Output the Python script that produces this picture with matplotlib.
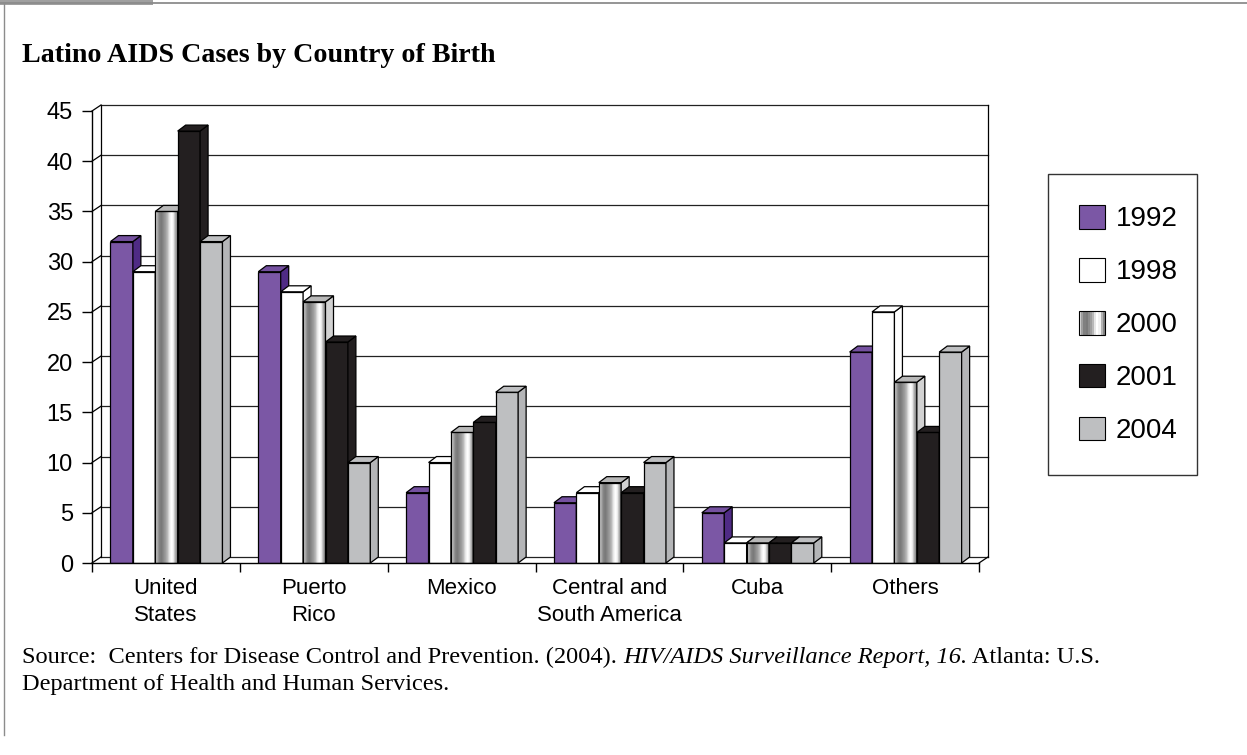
import matplotlib
matplotlib.use("Agg")
import matplotlib.pyplot as plt
import numpy as np
from matplotlib.patches import Polygon, Rectangle
from matplotlib.legend_handler import HandlerBase
from matplotlib.lines import Line2D

plt.rcParams['font.family'] = ['Liberation Sans', 'DejaVu Sans']

# ---------------- data ----------------
categories = ["United\nStates", "Puerto\nRico", "Mexico",
              "Central and\nSouth America", "Cuba", "Others"]
years = ["1992", "1998", "2000", "2001", "2004"]
v1992 = [32, 29, 7, 6, 5, 21]
v1998 = [29, 27, 10, 7, 2, 25]
v2000 = [35, 26, 13, 8, 2, 18]
v2001 = [43, 22, 14, 7, 2, 13]
v2004 = [32, 10, 17, 10, 2, 21]
y_ticks = [0, 5, 10, 15, 20, 25, 30, 35, 40, 45]
title = "Latino AIDS Cases by Country of Birth"
source_1 = "Source:  Centers for Disease Control and Prevention. (2004). "
source_it = "HIV/AIDS Surveillance Report, 16."
source_2 = " Atlanta: U.S."
source_3 = "Department of Health and Human Services."

series = [v1992, v1998, v2000, v2001, v2004]

# ---------------- styles ----------------
W, H = 1247, 755
front_col = ['#7B57A5', '#FFFFFF', None, '#231F20', '#BEBFC1']
side_col = ['#4F2B85', '#FFFFFF', '#D2D2D2', '#231F20', '#B4B5B7']
top_col = ['#7551A0', '#FFFFFF', '#B8B8B8', '#231F20', '#BEBFC1']
STRIPE = [0.85, 0.62, 0.50, 0.48, 0.55, 0.62, 0.72, 0.90, 1.0, 0.95, 0.70, 0.52]

fig = plt.figure(figsize=(W / 100, H / 100), dpi=100)
fig.patch.set_facecolor('white')

ax_l, ax_r, ax_b, ax_t = 92, 979, 563, 111
ax = fig.add_axes([ax_l / W, 1 - ax_b / H, (ax_r - ax_l) / W, (ax_b - ax_t) / H])
ax.set_facecolor('none')
ncat = len(categories)
ymax = y_ticks[-1]
ax.set_xlim(0, ncat)
ax.set_ylim(0, ymax)

px_x = ncat / (ax_r - ax_l)    # data units per pixel (x)
px_y = ymax / (ax_b - ax_t)    # data units per pixel (y)
dxw, dyw = 9 * px_x, 6 * px_y  # wall depth
dxb, dyb = 8 * px_x, 6 * px_y  # bar depth
lw = 0.9

# back wall gridlines
for v in y_ticks:
    ax.plot([dxw, ncat + dxw], [v + dyw, v + dyw], color='#222222', lw=lw,
            zorder=1, clip_on=False)
    ax.plot([0, dxw], [v, v + dyw], color='black', lw=lw, zorder=1, clip_on=False)
ax.plot([dxw, dxw], [dyw, ymax + dyw], color='black', lw=lw, zorder=1, clip_on=False)
ax.plot([ncat + dxw, ncat + dxw], [dyw, ymax + dyw], color='black', lw=lw,
        zorder=1, clip_on=False)
ax.plot([ncat, ncat + dxw], [0, dyw], color='black', lw=lw, zorder=1, clip_on=False)

# bars
bw = 0.1515
off = 0.125
z = 2
for i in range(ncat):
    for j, vals in enumerate(series):
        h = vals[i]
        x0 = i + off + j * bw
        x1 = x0 + bw
        # front face
        if front_col[j] is None:
            ax.imshow(np.array(STRIPE)[None, :], cmap='gray', vmin=0, vmax=1,
                      extent=[x0, x1, 0, h], aspect='auto',
                      interpolation='bilinear', zorder=z)
            ax.add_patch(Rectangle((x0, 0), bw, h, facecolor='none',
                                   edgecolor='black', lw=lw, zorder=z + 0.1))
        else:
            ax.add_patch(Rectangle((x0, 0), bw, h, facecolor=front_col[j],
                                   edgecolor='black', lw=lw, zorder=z))
        # side face
        ax.add_patch(Polygon([(x1, 0), (x1 + dxb, dyb), (x1 + dxb, h + dyb), (x1, h)],
                             closed=True, facecolor=side_col[j], edgecolor='black',
                             lw=lw, zorder=z + 0.2))
        # top face
        ax.add_patch(Polygon([(x0, h), (x1, h), (x1 + dxb, h + dyb), (x0 + dxb, h + dyb)],
                             closed=True, facecolor=top_col[j], edgecolor='black',
                             lw=lw, zorder=z + 0.2))
        z += 1

ax.set_xlim(0, ncat)
ax.set_ylim(0, ymax)

# axes / ticks
for s in ['top', 'right']:
    ax.spines[s].set_visible(False)
for s in ['left', 'bottom']:
    ax.spines[s].set_linewidth(1.0)
    ax.spines[s].set_zorder(200)
ax.set_yticks(y_ticks)
ax.set_yticklabels([str(v) for v in y_ticks])
ax.tick_params(axis='y', direction='out', length=7.2, width=1.0, pad=6.5,
               labelsize=17, colors='black')
ax.set_xticks(range(ncat + 1))
ax.set_xticklabels([''] * (ncat + 1))
ax.set_xticks([i + 0.5 for i in range(ncat)], minor=True)
ax.set_xticklabels(categories, minor=True)
ax.tick_params(axis='x', which='major', direction='out', length=6.5, width=1.0)
ax.tick_params(axis='x', which='minor', length=0, pad=11, labelsize=16)
for t in ax.get_xticklabels(minor=True):
    t.set_linespacing(1.35)

# legend
class StripeHandle:
    pass


class StripeHandler(HandlerBase):
    def create_artists(self, legend, orig_handle, xdescent, ydescent,
                       width, height, fontsize, trans):
        arts = []
        n = len(STRIPE)
        w = width / n
        for k, g in enumerate(STRIPE):
            arts.append(Rectangle((-xdescent + k * w, -ydescent), w, height,
                                  facecolor=str(g), edgecolor='none', transform=trans))
        arts.append(Rectangle((-xdescent, -ydescent), width, height, facecolor='none',
                              edgecolor='black', lw=0.8, transform=trans))
        return arts


handles = []
for j in range(len(years)):
    if front_col[j] is None:
        handles.append(StripeHandle())
    else:
        handles.append(Rectangle((0, 0), 1, 1, facecolor=front_col[j],
                                 edgecolor='black', lw=0.8))
leg = fig.legend(handles, years, handler_map={StripeHandle: StripeHandler()},
                 loc='upper left', bbox_to_anchor=(1048 / W, 1 - 174 / H, 149 / W, 0),
                 mode='expand',
                 borderaxespad=0, fontsize=20, handlelength=0.93, handleheight=0.93,
                 handletextpad=0.4, labelspacing=0.92, borderpad=1.12,
                 fancybox=False, frameon=True)
leg.get_frame().set_edgecolor('black')
leg.get_frame().set_linewidth(1.0)

# title
fig.text(22 / W, 1 - 62 / H, title, family='Liberation Serif', fontweight='bold',
         fontsize=20.2, va='baseline', ha='left')

# source
sfs = 17.6
t1 = fig.text(22 / W, 1 - 663 / H, source_1, family='Liberation Serif', fontsize=sfs,
              va='baseline', ha='left')
t2 = ax.annotate(source_it, xy=(1, H - 663), xycoords=(t1, 'figure pixels'),
                 family='Liberation Serif', style='italic', fontsize=sfs,
                 va='baseline', ha='left', annotation_clip=False)
t3 = ax.annotate(source_2, xy=(1, H - 663), xycoords=(t2, 'figure pixels'),
                 family='Liberation Serif', fontsize=sfs,
                 va='baseline', ha='left', annotation_clip=False)
fig.text(22 / W, 1 - 690 / H, source_3, family='Liberation Serif', fontsize=sfs,
         va='baseline', ha='left')

# outer frame
fig.add_artist(Line2D([0, 1], [1 - 2.5 / H, 1 - 2.5 / H], transform=fig.transFigure,
                      color='#8C8C8C', lw=1.3))
fig.add_artist(Line2D([3.5 / W, 3.5 / W], [1 - 2.5 / H, 1 - 735 / H],
                      transform=fig.transFigure, color='#8C8C8C', lw=1.0))
fig.add_artist(Rectangle((0, 1 - 5 / H), 153 / W, 5 / H, transform=fig.transFigure,
                         facecolor='#A0A0A0', edgecolor='none'))

fig.savefig('out.png', dpi=100, facecolor='white')
